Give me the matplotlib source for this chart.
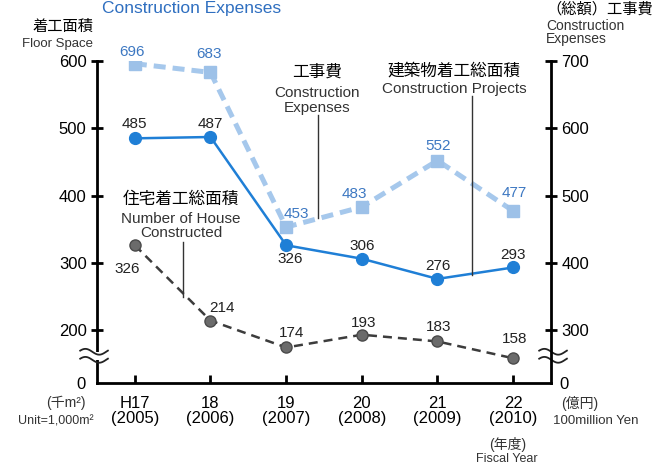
import numpy as np
import matplotlib
matplotlib.use("Agg")
import matplotlib.pyplot as plt
from matplotlib.lines import Line2D
from matplotlib.patches import Rectangle

plt.rcParams['font.family'] = ['Liberation Sans', 'Noto Sans CJK JP', 'DejaVu Sans']

# data
years = ['H17\n(2005)', '18\n(2006)', '19\n(2007)', '20\n(2008)', '21\n(2009)', '22\n(2010)']
projects = [485, 487, 326, 306, 276, 293]      # 建築物着工総面積 (千m2)
houses = [326, 214, 174, 193, 183, 158]        # 住宅着工総面積 (千m2)
expenses = [696, 683, 453, 483, 552, 477]      # 工事費 (億円)

left_ticks = [200, 300, 400, 500, 600]
right_ticks = [300, 400, 500, 600, 700]

# label offsets in pixels (dx, dy of baseline)
proj_off = [(0, 10), (0, 9), (4, -18), (0, 9), (0, 9), (0, 8)]
house_off = [(-8, -28), (12, 9), (5, 10), (2, 8), (1, 10), (1, 15)]
exp_off = [(-3, 8), (-1, 14), (10, 9), (-7, 9), (1, 11), (1, 14)]

BLUE = '#1f7fd6'
LBLUE = '#a6c8ec'
LBLUE_TXT = '#3d78c2'
GRAY = '#3c3c3c'

W, H = 671, 466
fig = plt.figure(figsize=(W / 100, H / 100), dpi=100)
fig.patch.set_facecolor('white')
ax = fig.add_axes([97 / W, 1 - 383 / H, 454 / W, 322 / H])
ax2 = ax.twinx()

x = np.arange(len(years))
ybot = 121.2
ax.set_xlim(-0.5, 5.5)
ax.set_ylim(ybot, 600)
ax2.set_ylim(ybot + 100, 700)

for a in (ax, ax2):
    a.spines['top'].set_visible(False)
    for s in ('left', 'right', 'bottom'):
        a.spines[s].set_linewidth(2)
    a.patch.set_visible(False)
ax.spines['right'].set_visible(False)
ax2.spines['left'].set_visible(False)
ax2.spines['bottom'].set_visible(False)

ax.set_xticks(x, years)
ax.tick_params(axis='x', direction='in', length=6, width=2, pad=9, labelsize=12)
for t in ax.get_xticklabels():
    t.set_linespacing(1.05)

ax.set_yticks(left_ticks, [str(v) for v in left_ticks])
ax.set_yticks([ybot], ['0'], minor=True)
ax.tick_params(axis='y', which='major', direction='inout', length=9, width=2, pad=3, labelsize=12)
ax.tick_params(axis='y', which='minor', length=0, pad=8, labelsize=12)
ax2.set_yticks(right_ticks, [str(v) for v in right_ticks])
ax2.set_yticks([ybot + 100], ['0'], minor=True)
ax2.tick_params(axis='y', which='major', direction='inout', length=9, width=2, pad=3, labelsize=12)
ax2.tick_params(axis='y', which='minor', length=0, pad=6, labelsize=12)

# lines
ax2.plot(x, expenses, color=LBLUE, lw=3.6, dashes=(2.4, 1.4), marker='s', ms=8.5,
         mfc='#9dc1e8', mec='#9dc1e8', zorder=2)
ax.plot(x, houses, color=GRAY, lw=1.8, dashes=(3.6, 2.4), marker='o', ms=8,
        mfc='#6b6b6b', mec='#4a4a4a', zorder=3)
ax.plot(x, projects, color=BLUE, lw=1.8, marker='o', ms=8.5, mfc=BLUE, mec=BLUE, zorder=4)

for xi, v, o in zip(x, projects, proj_off):
    ax.annotate(str(v), (xi, v), xytext=o, textcoords='offset pixels',
                ha='center', va='baseline', fontsize=11, color='#222222')
for xi, v, o in zip(x, houses, house_off):
    ax.annotate(str(v), (xi, v), xytext=o, textcoords='offset pixels',
                ha='center', va='baseline', fontsize=11, color='#222222')
for xi, v, o in zip(x, expenses, exp_off):
    ax2.annotate(str(v), (xi, v), xytext=o, textcoords='offset pixels',
                 ha='center', va='baseline', fontsize=11, color=LBLUE_TXT)

# axis break marks
def wave(x0, x1, ya, yb):
    ax.add_patch(Rectangle((x0 + 0.012, ya), x1 - x0 - 0.024, yb - ya, transform=ax.transAxes,
                           facecolor='white', edgecolor='none', clip_on=False, zorder=5))
    t = np.linspace(0, 1, 60)
    for yy in (ya, yb):
        ax.plot(x0 + (x1 - x0) * t, yy + 0.009 * np.sin(2 * np.pi * t + 0.4), transform=ax.transAxes,
                color='#222222', lw=1.3, clip_on=False, zorder=6)

wave(-0.037, 0.024, 0.072, 0.097)
wave(0.974, 1.035, 0.072, 0.097)


def ftext(px, py, s, **kw):
    fig.text(px / W, 1 - py / H, s, va='baseline', **kw)


def fline(px, y0, y1):
    fig.add_artist(Line2D([px / W, px / W], [1 - y0 / H, 1 - y1 / H], color='#333333', lw=1))


ftext(317, 77, '工事費', ha='center', fontsize=12)
ftext(317, 97, 'Construction', ha='center', fontsize=11, color='#333333')
ftext(317, 112, 'Expenses', ha='center', fontsize=11, color='#333333')
fline(318, 115, 218)

ftext(454, 76, '建築物着工総面積', ha='center', fontsize=12)
ftext(454, 93, 'Construction Projects', ha='center', fontsize=11, color='#333333')
fline(472, 96, 275)

ftext(181, 204, '住宅着工総面積', ha='center', fontsize=12)
ftext(181, 223, 'Number of House', ha='center', fontsize=11, color='#333333')
ftext(181, 237, 'Constructed', ha='center', fontsize=11, color='#333333')
fline(183, 242, 297)

ftext(192, 13, 'Construction Expenses', ha='center', fontsize=12.5, color='#2f6fc0')
ftext(63, 31, '着工面積', ha='center', fontsize=11)
ftext(58, 47, 'Floor Space', ha='center', fontsize=9.5, color='#333333')

ftext(546, 14, '（総額）工事費', ha='left', fontsize=11)
ftext(546, 30, 'Construction', ha='left', fontsize=10, color='#333333')
ftext(546, 43, 'Expenses', ha='left', fontsize=10, color='#333333')

ftext(66, 407, '(千m²)', ha='center', fontsize=10, color='#333333')
ftext(56, 424, 'Unit=1,000m²', ha='center', fontsize=9, color='#333333')
ftext(580, 408, '(億円)', ha='center', fontsize=10, color='#333333')
ftext(596, 424, '100million Yen', ha='center', fontsize=9.5, color='#333333')
ftext(508, 449, '(年度)', ha='center', fontsize=10, color='#333333')
ftext(507, 462, 'Fiscal Year', ha='center', fontsize=9, color='#333333')

fig.savefig('out.png', dpi=100, facecolor='white')
